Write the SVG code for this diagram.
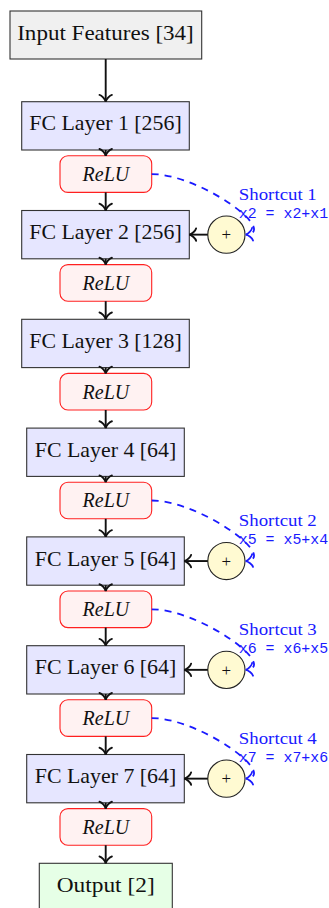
<svg xmlns="http://www.w3.org/2000/svg" width="329" height="908" viewBox="0 0 329 908">
<style>
.box{stroke:#333;stroke-width:1.1}
.in{fill:#f0f0f0}
.fc{fill:#e6e6ff}
.out{fill:#e6ffe6}
.relu{fill:#fff2f2;stroke:#ff2020;stroke-width:1.1}
.add{fill:#fffad2;stroke:#222;stroke-width:1.1}
.t{font-family:"Liberation Serif","Times New Roman",serif;font-size:21px;fill:#111;text-anchor:middle}
.ti{font-family:"Liberation Serif","Times New Roman",serif;font-size:21px;font-style:italic;fill:#111;text-anchor:middle}
.plus{font-family:"Liberation Serif",serif;font-size:17px;fill:#111;text-anchor:middle}
.sl{font-family:"Liberation Serif","Times New Roman",serif;font-size:16.5px;fill:#1a1aff}
.eq{font-family:"Liberation Mono","Courier New",monospace;font-size:14.9px;fill:#1a1aff}
.arr{fill:none;stroke:#111;stroke-width:1.9;marker-end:url(#ahk)}
.sc{fill:none;stroke:#1a1aff;stroke-width:1.8;stroke-dasharray:7 6;marker-end:url(#ahb)}
</style>
<defs>
<marker id="ahk" markerUnits="userSpaceOnUse" viewBox="-12 -12 24 24" markerWidth="24" markerHeight="24" refX="0" refY="0" orient="auto" overflow="visible">
<path d="M-6.8,-6.2 C-6.4,-3.9 -2.3,-0.4 0,0 C-2.3,0.4 -6.4,3.9 -6.8,6.2" fill="none" stroke="#111" stroke-width="1.9" stroke-linecap="round"/>
</marker>
<marker id="ahb" markerUnits="userSpaceOnUse" viewBox="-12 -12 24 24" markerWidth="24" markerHeight="24" refX="0" refY="0" orient="auto" overflow="visible">
<path d="M-6.8,-6.4 C-6.4,-4 -2.3,-0.4 0,0 C-2.3,0.4 -6.4,4 -6.8,6.4" fill="none" stroke="#1a1aff" stroke-width="1.8" stroke-linecap="round"/>
</marker>
</defs>
<rect width="329" height="908" fill="#fff"/>

<g id="input"><rect class="box in" x="10" y="11" width="191.7" height="48"/><text class="t" x="105.5" y="39.5" textLength="176.6" lengthAdjust="spacingAndGlyphs">Input Features [34]</text></g>

<g id="fc1"><rect class="box fc" x="21.7" y="101.7" width="167.6" height="48.3"/><text class="t" x="105.5" y="130.4" textLength="152.4" lengthAdjust="spacingAndGlyphs">FC Layer 1 [256]</text></g>
<g id="relu1"><rect class="relu" x="60" y="155.8" width="91.7" height="36.6" rx="8"/><text class="ti" x="105.9" y="180.9" textLength="46.6" lengthAdjust="spacingAndGlyphs">ReLU</text></g>

<g id="fc2"><rect class="box fc" x="21.7" y="210.5" width="167.6" height="48.3"/><text class="t" x="105.5" y="239.2" textLength="152.4" lengthAdjust="spacingAndGlyphs">FC Layer 2 [256]</text></g>
<g id="relu2"><rect class="relu" x="60" y="264.6" width="91.7" height="36.6" rx="8"/><text class="ti" x="105.9" y="289.7" textLength="46.6" lengthAdjust="spacingAndGlyphs">ReLU</text></g>

<g id="fc3"><rect class="box fc" x="21.7" y="319.3" width="167.6" height="48.3"/><text class="t" x="105.5" y="348" textLength="152.4" lengthAdjust="spacingAndGlyphs">FC Layer 3 [128]</text></g>
<g id="relu3"><rect class="relu" x="60" y="373.4" width="91.7" height="36.6" rx="8"/><text class="ti" x="105.9" y="398.5" textLength="46.6" lengthAdjust="spacingAndGlyphs">ReLU</text></g>

<g id="fc4"><rect class="box fc" x="26.7" y="428.1" width="157.6" height="48.3"/><text class="t" x="105.5" y="456.8" textLength="141.5" lengthAdjust="spacingAndGlyphs">FC Layer 4 [64]</text></g>
<g id="relu4"><rect class="relu" x="60" y="482.2" width="91.7" height="36.6" rx="8"/><text class="ti" x="105.9" y="507.3" textLength="46.6" lengthAdjust="spacingAndGlyphs">ReLU</text></g>

<g id="fc5"><rect class="box fc" x="26.7" y="536.9" width="157.6" height="48.3"/><text class="t" x="105.5" y="565.6" textLength="141.5" lengthAdjust="spacingAndGlyphs">FC Layer 5 [64]</text></g>
<g id="relu5"><rect class="relu" x="60" y="591" width="91.7" height="36.6" rx="8"/><text class="ti" x="105.9" y="616.1" textLength="46.6" lengthAdjust="spacingAndGlyphs">ReLU</text></g>

<g id="fc6"><rect class="box fc" x="26.7" y="645.7" width="157.6" height="48.3"/><text class="t" x="105.5" y="674.4" textLength="141.5" lengthAdjust="spacingAndGlyphs">FC Layer 6 [64]</text></g>
<g id="relu6"><rect class="relu" x="60" y="699.8" width="91.7" height="36.6" rx="8"/><text class="ti" x="105.9" y="724.9" textLength="46.6" lengthAdjust="spacingAndGlyphs">ReLU</text></g>

<g id="fc7"><rect class="box fc" x="26.7" y="754.5" width="157.6" height="48.3"/><text class="t" x="105.5" y="783.2" textLength="141.5" lengthAdjust="spacingAndGlyphs">FC Layer 7 [64]</text></g>
<g id="relu7"><rect class="relu" x="60" y="808.6" width="91.7" height="36.6" rx="8"/><text class="ti" x="105.9" y="833.7" textLength="46.6" lengthAdjust="spacingAndGlyphs">ReLU</text></g>

<g id="output"><rect class="box out" x="39.3" y="863.3" width="133" height="48.3"/><text class="t" x="105.7" y="892.2" textLength="98" lengthAdjust="spacingAndGlyphs">Output [2]</text></g>

<g id="add1"><circle class="add" cx="226.4" cy="234.65" r="18.6"/><text class="plus" x="226.4" y="240.3">+</text></g>
<g id="add2"><circle class="add" cx="226.4" cy="561.05" r="18.6"/><text class="plus" x="226.4" y="566.7">+</text></g>
<g id="add3"><circle class="add" cx="226.4" cy="669.85" r="18.6"/><text class="plus" x="226.4" y="675.5">+</text></g>
<g id="add4"><circle class="add" cx="226.4" cy="778.65" r="18.6"/><text class="plus" x="226.4" y="784.3">+</text></g>

<g id="connectors">
<path class="arr" d="M105.7,59 V101.7"/>
<path class="arr" d="M105.7,150 V155.8"/>
<path class="arr" d="M105.7,192.4 V210.5"/>
<path class="arr" d="M105.7,258.8 V264.6"/>
<path class="arr" d="M105.7,301.2 V319.3"/>
<path class="arr" d="M105.7,367.6 V373.4"/>
<path class="arr" d="M105.7,410 V428.1"/>
<path class="arr" d="M105.7,476.4 V482.2"/>
<path class="arr" d="M105.7,518.8 V536.9"/>
<path class="arr" d="M105.7,585.2 V591"/>
<path class="arr" d="M105.7,627.6 V645.7"/>
<path class="arr" d="M105.7,694 V699.8"/>
<path class="arr" d="M105.7,736.4 V754.5"/>
<path class="arr" d="M105.7,802.8 V808.6"/>
<path class="arr" d="M105.7,845.2 V863.3"/>
<path class="arr" d="M207.8,234.65 H189.3"/>
<path class="arr" d="M207.8,561.05 H184.3"/>
<path class="arr" d="M207.8,669.85 H184.3"/>
<path class="arr" d="M207.8,778.65 H184.3"/>
<path class="sc" d="M151.7,174.1 C200,174.1 280,232.2 245.8,234.65"/>
<path class="sc" d="M151.7,500.5 C200,500.5 280,558.6 245.8,561.05"/>
<path class="sc" d="M151.7,609.3 C200,609.3 280,667.4 245.8,669.85"/>
<path class="sc" d="M151.7,718.1 C200,718.1 280,776.2 245.8,778.65"/>
</g>

<g id="label1"><text class="sl" x="238.8" y="200" textLength="78" lengthAdjust="spacingAndGlyphs">Shortcut 1</text><text class="eq" x="238.8" y="218">x2 = x2+x1</text></g>
<g id="label2"><text class="sl" x="238.8" y="526.4" textLength="78" lengthAdjust="spacingAndGlyphs">Shortcut 2</text><text class="eq" x="238.8" y="544.4">x5 = x5+x4</text></g>
<g id="label3"><text class="sl" x="238.8" y="635.2" textLength="78" lengthAdjust="spacingAndGlyphs">Shortcut 3</text><text class="eq" x="238.8" y="653.2">x6 = x6+x5</text></g>
<g id="label4"><text class="sl" x="238.8" y="744" textLength="78" lengthAdjust="spacingAndGlyphs">Shortcut 4</text><text class="eq" x="238.8" y="762">x7 = x7+x6</text></g>
</svg>
